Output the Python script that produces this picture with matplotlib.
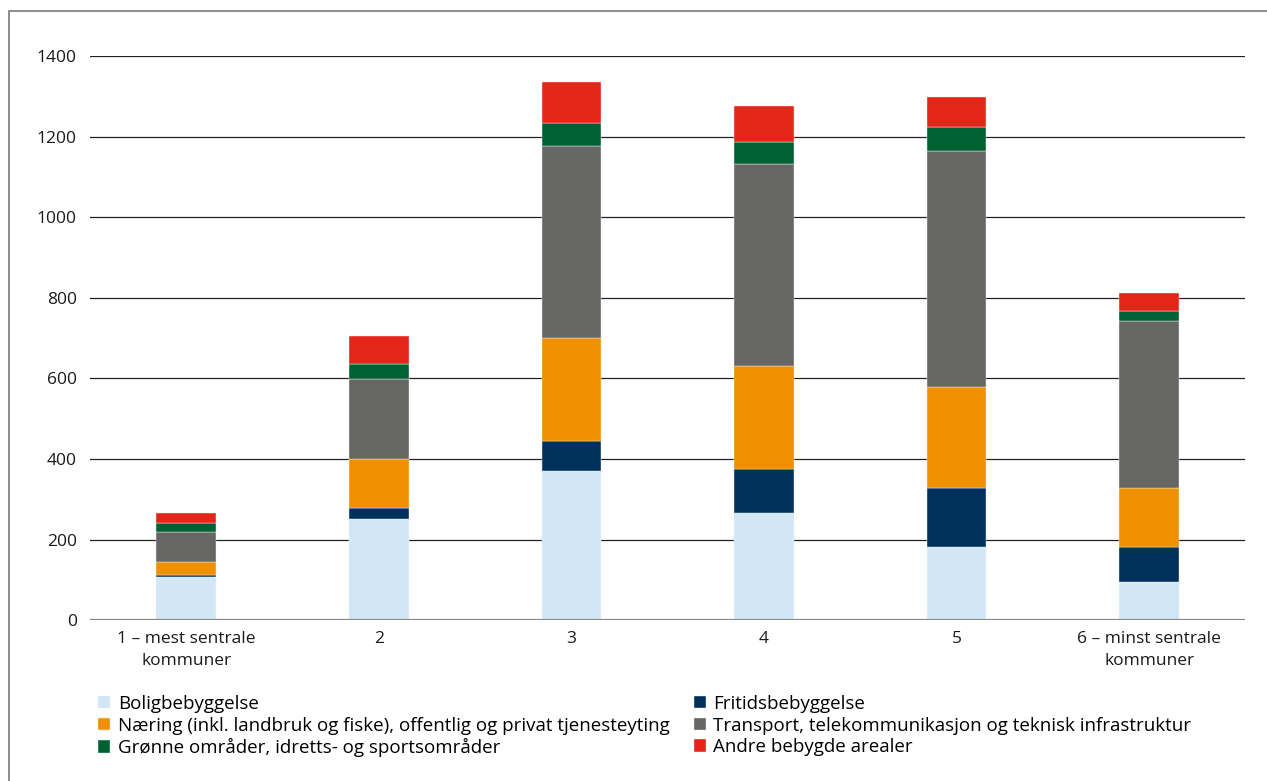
import matplotlib.pyplot as plt
from matplotlib.patches import Rectangle
import numpy as np

plt.rcParams['font.family'] = ['Open Sans', 'DejaVu Sans']

categories = ['1 – mest sentrale\nkommuner', '2', '3', '4', '5', '6 – minst sentrale\nkommuner']
series = ['Boligbebyggelse', 'Fritidsbebyggelse',
          'Næring (inkl. landbruk og fiske), offentlig og privat tjenesteyting',
          'Transport, telekommunikasjon og teknisk infrastruktur',
          'Grønne områder, idretts- og sportsområder', 'Andre bebygde arealer']
colors = ['#D2E7F6', '#00305C', '#F08F00', '#666664', '#006233', '#E32617']

bolig = [108, 250, 370, 266, 181, 94]
fritid = [4, 29, 74, 109, 147, 88]
naering = [32, 121, 256, 255, 250, 147]
transport = [74, 198, 476, 502, 586, 413]
gronne = [23, 39, 58, 54, 60, 26]
andre = [25, 68, 101, 90, 74, 45]

values = [bolig, fritid, naering, transport, gronne, andre]

fig = plt.figure(figsize=(12.67, 7.81), dpi=100)
fig.patches.append(Rectangle((9 / 1267, -0.01), 1.1, 1 - 11 / 781 + 0.01, transform=fig.transFigure,
                             fill=False, edgecolor='#7a7a7a', linewidth=1.2))
ax = fig.add_axes([0.071, 0.206, 0.912, 0.722])

x = np.arange(len(categories))
bottom = np.zeros(len(categories))
handles = []
for name, vals, col in zip(series, values, colors):
    h = ax.bar(x, vals, width=0.31, bottom=bottom, color=col, label=name, zorder=3,
               edgecolor='#f4f4f4', linewidth=0.3)
    handles.append(h)
    bottom += np.array(vals)

ax.set_ylim(0, 1400)
ax.set_xlim(-0.5, len(categories) - 0.5)
ax.set_yticks(range(0, 1401, 200))
ax.yaxis.grid(True, color='#222222', linewidth=0.9, zorder=0)
ax.axhline(0, color='#888888', linewidth=1.6, zorder=4)
ax.set_xticks(x)
ax.set_xticklabels(categories, fontsize=12.5, color='#1a1a1a', linespacing=1.5)
ax.tick_params(axis='both', length=0, labelsize=12.5, colors='#1a1a1a')
ax.tick_params(axis='y', pad=9.5)
ax.tick_params(axis='x', pad=8)
for s in ax.spines.values():
    s.set_visible(False)

order = [0, 2, 4, 1, 3, 5]
leg = fig.legend([handles[i] for i in order], [series[i] for i in order], ncol=2,
                 loc='upper left', bbox_to_anchor=(0.064, 0.132), frameon=False,
                 fontsize=13.5, handlelength=0.65, handleheight=0.65, handletextpad=0.4,
                 labelspacing=0.2, columnspacing=1.3)

fig.savefig('out.png', dpi=100)
